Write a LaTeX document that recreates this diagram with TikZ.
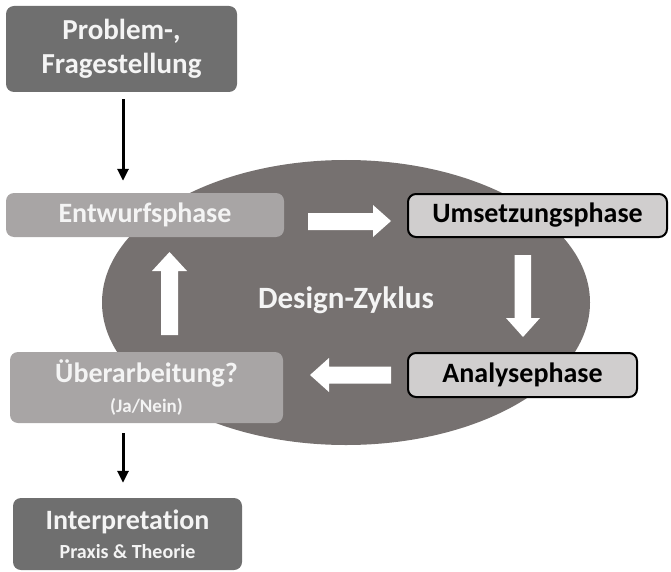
\documentclass[tikz,border=0pt]{standalone}
\usepackage{fontspec}
\setmainfont{Carlito}[Ligatures=NoCommon]
\usetikzlibrary{arrows.meta,shapes.geometric}

\definecolor{darkbox}{RGB}{111,111,111}
\definecolor{cyclegray}{RGB}{118,113,112}
\definecolor{lightbox}{RGB}{168,165,165}
\definecolor{phasebox}{RGB}{208,206,206}
\definecolor{softwhite}{RGB}{244,244,244}

\tikzset{
  base/.style={rectangle, rounded corners=8pt, inner sep=0pt, align=center,
               font=\bfseries\fontsize{28}{34}\selectfont},
  termbox/.style={base, fill=darkbox, text=softwhite},
  cyclebox/.style={base, fill=lightbox, text=softwhite},
  phase/.style={base, fill=phasebox, draw=black, line width=2pt, text=black},
  flow/.style={-{Triangle[length=12pt,width=11pt]}, line width=3pt, black}
}

\begin{document}
\begin{tikzpicture}[x=1pt,y=-1pt]
  \useasboundingbox (0,0) rectangle (671,572);

  % the design cycle
  \node[ellipse, fill=cyclegray, minimum width=488pt, minimum height=285pt, inner sep=0pt]
    (cycle) at (346,302.5) {};
  \node[text=softwhite, font=\bfseries\fontsize{31}{36}\selectfont] (cyclelabel) at (346,300) {Design-Zyklus};

  % start and end
  \node[termbox, minimum width=231pt, minimum height=86pt, font=\bfseries\fontsize{29}{34}\selectfont]
    (problem) at (121.5,49) {Problem-,\\Fragestellung};
  \node[termbox, minimum width=229pt, minimum height=72pt] (interp) at (127.5,534)
    {Interpretation\\[-5pt]{\fontsize{20}{22}\selectfont Praxis \& Theorie}};

  % phases
  \node[cyclebox, minimum width=278pt, minimum height=44pt] (entwurf) at (145,215) {Entwurfsphase};
  \node[phase, minimum width=259pt, minimum height=43pt] (umsetz) at (537.5,215.5) {Umsetzungsphase};
  \node[phase, minimum width=229pt, minimum height=44pt] (analyse) at (522.5,375) {Analysephase};
  \node[cyclebox, minimum width=273pt, minimum height=71pt] (ueber) at (146.5,387.5)
    {Überarbeitung?\\[-4pt]{\fontsize{19}{22}\selectfont (Ja/Nein)}};

  % entry and exit
  \draw[flow] ([xshift=1.5pt,yshift=-7pt]problem.south) -- ([xshift=1.5pt,yshift=12pt]problem.south |- entwurf.north);
  \draw[flow] ([xshift=-23.5pt,yshift=-10pt]ueber.south) -- ([xshift=-23.5pt,yshift=15pt]ueber.south |- interp.north);

  % white block arrows of the cycle
  \fill[white] (308,213) -- (373,213) -- (373,205) -- (391,221) -- (373,237) -- (373,230) -- (308,230) -- cycle;
  \fill[white] (514.5,255) -- (531,255) -- (531,318) -- (540,318) -- (523,337) -- (506,318) -- (514.5,318) -- cycle;
  \fill[white] (391,366.5) -- (329,366.5) -- (329,358) -- (310,375) -- (329,392) -- (329,383.5) -- (391,383.5) -- cycle;
  \fill[white] (161,335) -- (178,335) -- (178,271) -- (187,271) -- (169.5,252) -- (152,271) -- (161,271) -- cycle;
\end{tikzpicture}
\end{document}
